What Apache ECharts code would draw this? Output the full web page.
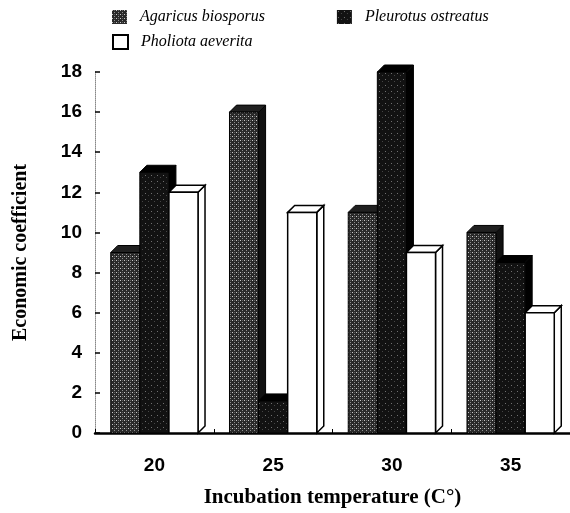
<!DOCTYPE html>
<html>
<head>
<meta charset="utf-8">
<script src="https://cdn.jsdelivr.net/npm/echarts@6/dist/echarts.min.js"></script>
<style>
  html, body { margin: 0; padding: 0; background: #fff; }
  #main { width: 570px; height: 513px; }
</style>
</head>
<body>
<div id="main"></div>
<script>
// data
var categories = ['20', '25', '30', '35'];
var agaricus = [9, 16, 11, 10];
var pleurotus = [13, 1.6, 18, 8.5];
var pholiota = [12, 11, 9, 6];
var seriesNames = ['Agaricus biosporus', 'Pleurotus ostreatus', 'Pholiota aeverita'];

//小图案 模仿扫描件的网点
function makePattern(bg, dots, size) {
    let c = document.createElement('canvas');
    c.width = size;
    c.height = size;
    let ctx = c.getContext('2d');
    ctx.fillStyle = bg;
    ctx.fillRect(0, 0, size, size);
    dots.forEach(function (d) {
        ctx.fillStyle = d[2];
        ctx.fillRect(d[0], d[1], 1, 1);
    });
    return { image: c, repeat: 'repeat' };
}

let greyFill = makePattern('#2a2a2a', [[0, 0, '#c8c8c8'], [2, 2, '#909090'], [2, 0, '#606060']], 4);
let blackFill = makePattern('#121212', [[1, 1, '#707070'], [4, 3, '#454545']], 6);

let faces = [
    { front: greyFill, top: '#202020', side: '#111', stroke: '#000' },
    { front: blackFill, top: '#000', side: '#000', stroke: '#000' },
    { front: '#fff', top: '#fff', side: '#fff', stroke: '#000' }
];

let dx = 7, dy = 7;

//三维柱子
function render3d(params, api) {
    let cat = api.value(0);
    let val = api.value(1);
    let base = api.coord([cat, 0]);
    let top = api.coord([cat, val]);
    let bw = api.size([1, 0])[0] * 0.245;
    let x0 = base[0] - 1.5 * bw + params.seriesIndex * bw;
    let x1 = x0 + bw;
    let f = faces[params.seriesIndex];
    let lw = params.seriesIndex === 2 ? 1.5 : 1;
    return {
        type: 'group',
        children: [
            {
                type: 'polygon',
                shape: { points: [[x1, top[1]], [x1 + dx, top[1] - dy], [x1 + dx, base[1] - dy], [x1, base[1]]] },
                style: { fill: f.side, stroke: f.stroke, lineWidth: lw }
            },
            {
                type: 'polygon',
                shape: { points: [[x0, top[1]], [x0 + dx, top[1] - dy], [x1 + dx, top[1] - dy], [x1, top[1]]] },
                style: { fill: f.top, stroke: f.stroke, lineWidth: lw }
            },
            {
                type: 'rect',
                shape: { x: x0, y: top[1], width: bw, height: base[1] - top[1] },
                style: { fill: f.front, stroke: f.stroke, lineWidth: lw }
            }
        ]
    };
}

function toData(arr) {
    return arr.map(function (v, i) { return [i, v]; });
}

let chart = echarts.init(document.getElementById('main'));

let legendText = { fontFamily: 'Liberation Serif', fontStyle: 'italic', fontSize: 16, color: '#000', padding: [0, 0, 0, 8] };

let option = {
    backgroundColor: '#fff',
    animation: false,
    legend: [{
        data: [seriesNames[0], seriesNames[1]],
        left: 107,
        top: 4,
        itemWidth: 15,
        itemHeight: 14,
        itemGap: 72,
        icon: 'rect',
        textStyle: legendText
    }, {
        data: [seriesNames[2]],
        left: 107,
        top: 29,
        itemWidth: 15,
        itemHeight: 14,
        icon: 'rect',
        textStyle: legendText
    }],
    grid: { left: 95, right: 0, top: 72, bottom: 80 },
    xAxis: {
        type: 'category',
        data: categories,
        name: 'Incubation temperature (C°)',
        nameLocation: 'middle',
        nameGap: 54,
        nameTextStyle: { fontFamily: 'Liberation Serif', fontWeight: 'bold', fontSize: 21, color: '#000' },
        axisLine: { lineStyle: { color: '#000', width: 2.5 } },
        axisTick: { show: true, inside: true, length: 4, lineStyle: { color: '#000' } },
        axisLabel: { margin: 23, fontFamily: 'Liberation Sans', fontWeight: 'bold', fontSize: 19, color: '#000' }
    },
    yAxis: {
        type: 'value',
        min: 0,
        max: 18,
        interval: 2,
        name: 'Economic coefficient',
        nameLocation: 'middle',
        nameGap: 64,
        nameTextStyle: { fontFamily: 'Liberation Serif', fontWeight: 'bold', fontSize: 20, color: '#000' },
        axisLine: { show: true, lineStyle: { color: '#888', width: 1, type: 'dotted' } },
        axisTick: { show: true, inside: true, length: 5, lineStyle: { color: '#000', width: 1.5 } },
        axisLabel: { margin: 13, fontFamily: 'Liberation Sans', fontWeight: 'bold', fontSize: 19, color: '#000' },
        splitLine: { show: false }
    },
    series: [
        {
            name: seriesNames[0], type: 'custom', renderItem: render3d,
            itemStyle: { color: greyFill, borderColor: '#000' },
            encode: { x: 0, y: 1 }, data: toData(agaricus)
        },
        {
            name: seriesNames[1], type: 'custom', renderItem: render3d,
            itemStyle: { color: blackFill, borderColor: '#000' },
            encode: { x: 0, y: 1 }, data: toData(pleurotus)
        },
        {
            name: seriesNames[2], type: 'custom', renderItem: render3d,
            itemStyle: { color: '#fff', borderColor: '#000', borderWidth: 1.5 },
            encode: { x: 0, y: 1 }, data: toData(pholiota)
        }
    ]
};

chart.setOption(option);
</script>
</body>
</html>
